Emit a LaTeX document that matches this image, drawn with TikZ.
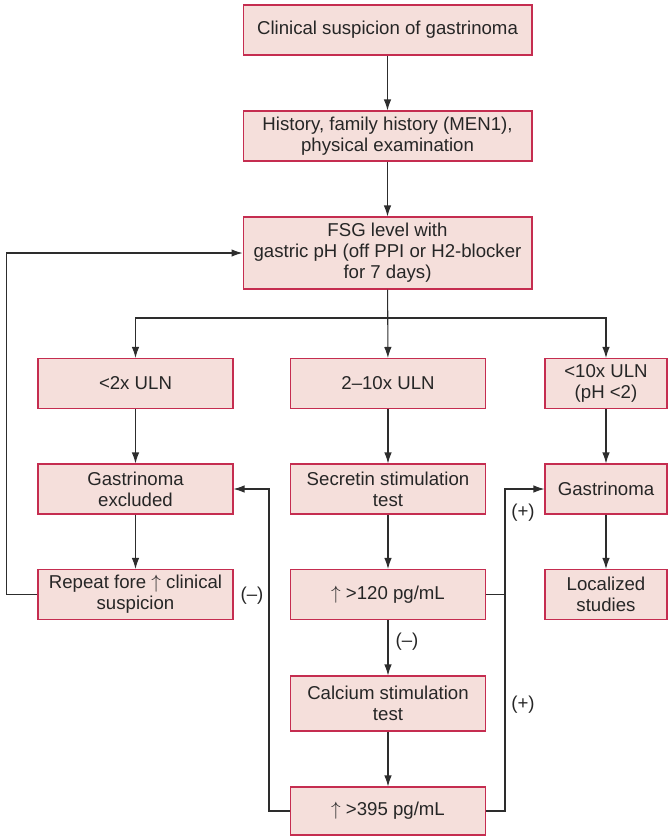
\documentclass[tikz,border=0pt]{standalone}
\usepackage{fontspec}
\setmainfont{Liberation Sans}
\usepackage{xcolor}
\usetikzlibrary{
    positioning,
    arrows.meta,
}
\definecolor{boxline}{RGB}{197,45,80}
\definecolor{boxfill}{RGB}{245,223,219}
\definecolor{wire}{RGB}{45,45,45}
\tikzset{
    % Box styles
    box/.style={rectangle, draw=boxline, fill=boxfill, line width=0.6pt,
                minimum height=1cm, align=center, inner sep=1pt,
                text=black!85, font=\fontsize{10.6}{12}\selectfont},
    wide box/.style={box, minimum width=5.78cm},
    col box/.style={box, minimum width=3.9cm},
    side box/.style={box, minimum width=2.44cm},
    % Arrow styles
    arrow/.style={-{Latex[length=2.2mm, width=1.5mm]}, line width=0.6pt, draw=wire},
    line/.style={line width=0.6pt, draw=wire},
    % Annotation styles
    annot/.style={text=black!85, font=\fontsize{10.6}{12}\selectfont},
}
\newcommand{\rise}{$\uparrow$}

\begin{document}
\begin{tikzpicture}[x=0.02cm, y=-0.02cm]
    \useasboundingbox (0,0) rectangle (669,836);

    % Work-up
    \node[wide box] (clin) at (387.5, 30) {Clinical suspicion of gastrinoma};
    \node[wide box] (hist) at (387.5, 136) {History, family history (MEN1),\\physical examination};
    \node[wide box, minimum height=1.44cm] (fsg) at (387.5, 253)
        {FSG level with\\gastric pH (off PPI or H2-blocker\\for 7 days)};

    % FSG ranges
    \node[col box] (low) at (135.5, 383.5) {<2x ULN};
    \node[col box] (mid) at (388, 383.5) {2–10x ULN};
    \node[side box] (high) at (606, 383.5) {<10x ULN\\(pH <2)};

    % Outcomes
    \node[col box] (excl) at (135.5, 489) {Gastrinoma\\excluded};
    \node[col box] (secr) at (388, 489) {Secretin stimulation\\test};
    \node[side box] (gast) at (606, 489) {Gastrinoma};
    \node[col box] (rep) at (135.5, 594.5) {Repeat fore \rise{} clinical\\suspicion};
    \node[col box] (p120) at (388, 594.5) {\rise{} >120 pg/mL};
    \node[side box] (loc) at (606, 594.5) {Localized\\studies};
    \node[col box, minimum height=1.1cm] (calc) at (388, 703.5) {Calcium stimulation\\test};
    \node[col box, minimum height=0.96cm] (p395) at (388, 811) {\rise{} >395 pg/mL};

    % Straight flow
    \foreach \a/\b in {clin/hist, hist/fsg, fsg/mid, low/excl, excl/rep, mid/secr,
                       secr/p120, p120/calc, calc/p395, high/gast, gast/loc} {
        \draw[arrow] (\a) -- (\b);
    }

    % Split below FSG
    \coordinate (split) at (388, 318);
    \draw[arrow] (split) -| (low);
    \draw[arrow] (split) -| (high);

    % Feedback loops
    \draw[arrow] (rep.west) -- ++(-31,0) |- (fsg.west);
    \draw[arrow] (p395.west) -- ++(-21,0) |- (excl.east);
    \draw[arrow] (p395.east) -- ++(19,0) |- (gast.west);
    \draw[line] (p120.east) -- ++(19,0);

    % Result labels
    \node[annot] (neg1) at (252, 596) {(–)};
    \node[annot] (neg2) at (407, 642) {(–)};
    \node[annot] (pos1) at (523, 513) {(+)};
    \node[annot] (pos2) at (523, 705) {(+)};
\end{tikzpicture}
\end{document}
